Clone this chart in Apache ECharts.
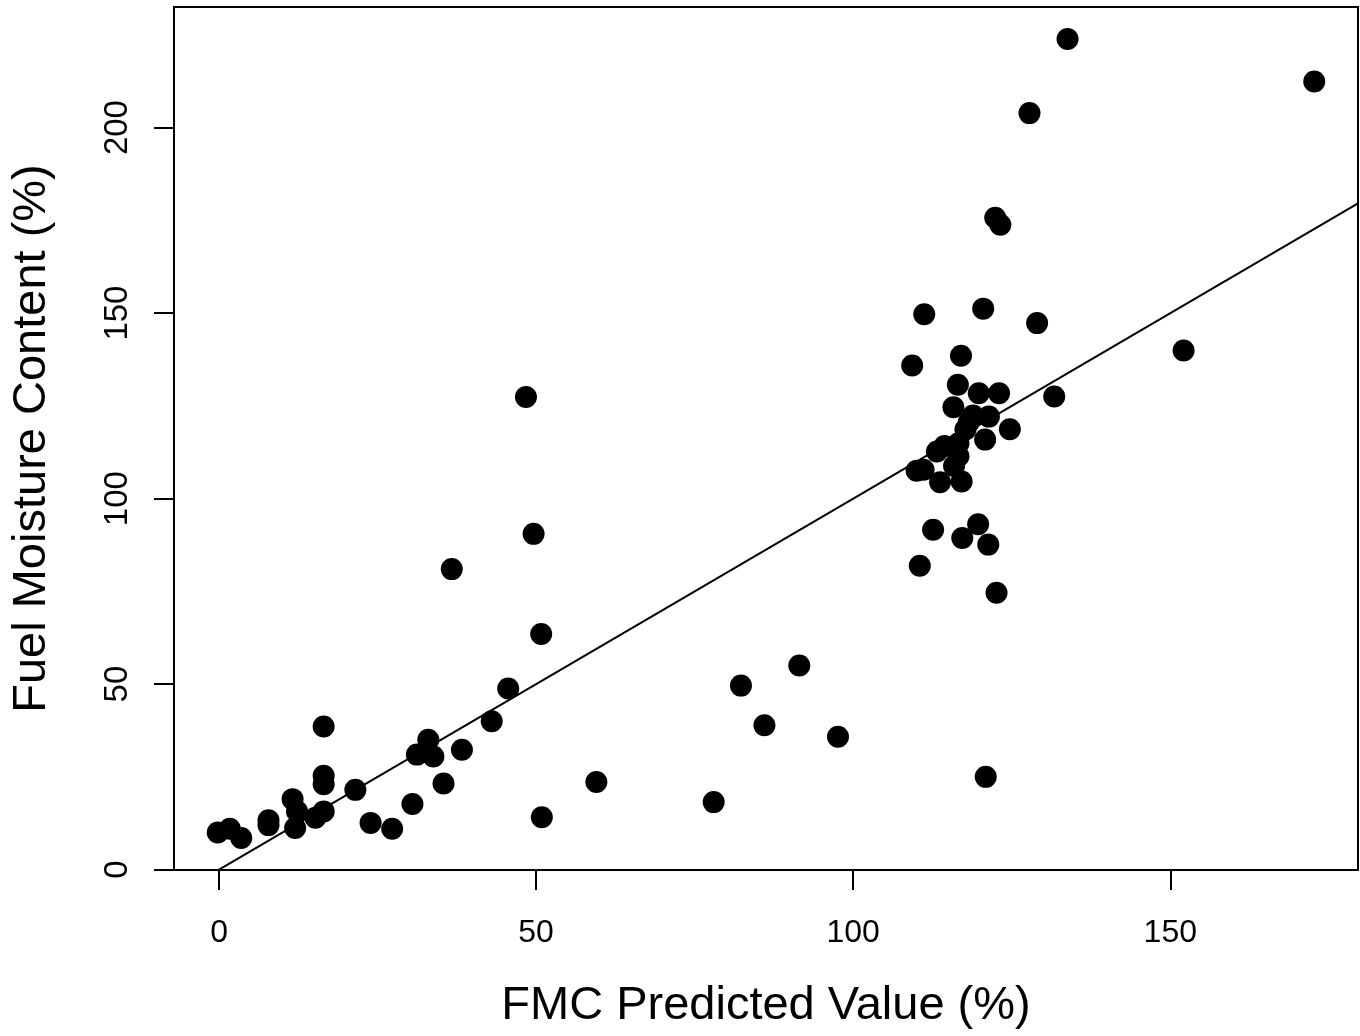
<!DOCTYPE html>
<html>
<head>
<meta charset="utf-8">
<script src="https://cdn.jsdelivr.net/npm/echarts@6/dist/echarts.min.js"></script>
<style>
  html, body { margin: 0; padding: 0; background: #fff; }
  #chart { width: 1360px; height: 1036px; }
</style>
</head>
<body>
<div id="chart"></div>
<script>
// Predicted fuel moisture content (x) vs observed fuel moisture content (y), in %
const predicted = [
  -0.2, 1.7, 3.5, 7.8, 7.8, 11.6, 12.3, 12.0, 15.2, 16.5, 16.5, 16.5, 16.5,
  21.5, 23.9, 27.3, 30.5, 31.2, 33.0, 33.8, 35.4, 36.7, 38.3, 43.0, 45.6,
  48.4, 49.6, 50.8, 50.9, 59.5, 78.0, 82.3, 86.0, 91.5, 97.6, 120.9,
  109.3, 111.2, 120.5, 117.0, 116.5, 119.8, 123.0, 115.8, 118.9, 121.4,
  124.7, 117.7, 120.8, 113.2, 114.4, 116.6, 116.6, 115.9, 110.0, 111.1,
  113.7, 117.1, 112.6, 119.7, 117.2, 121.3, 110.5, 122.6, 122.4, 123.2,
  127.8, 133.8, 172.7, 129.0, 152.1, 131.7, 118.2
];
const observed = [
  10.0, 11.0, 8.5, 13.3, 12.0, 19.0, 15.7, 11.2, 14.0, 15.7, 38.6, 25.3, 23.0,
  21.5, 12.6, 11.0, 17.7, 31.0, 35.0, 30.5, 23.2, 81.0, 32.3, 40.0, 48.8,
  127.4, 90.5, 63.5, 14.1, 23.6, 18.2, 49.6, 38.9, 55.0, 35.8, 25.0,
  135.9, 149.7, 151.2, 138.5, 130.7, 128.4, 128.4, 124.6, 122.4, 122.1,
  118.7, 118.6, 115.9, 112.7, 114.2, 114.9, 111.4, 108.8, 107.5, 107.8,
  104.4, 104.6, 91.6, 93.1, 89.4, 87.6, 81.9, 74.6, 175.7, 173.8,
  203.9, 223.9, 212.4, 147.3, 139.9, 127.5, 120.5
];

// Axis ticks
const xTicks = [0, 50, 100, 150];
const yTicks = [0, 50, 100, 150, 200];

// Plot ranges (data range padded by 4% on each side)
const xMin = -7.1, xMax = 179.6;
const yMin = -0.1, yMax = 232.5;

const points = predicted.map((x, i) => [x, observed[i]]);
// 1:1 reference line across the plotting region
const oneToOne = [[0, 0], [xMax, xMax]];

const FONT = '"Liberation Sans", Arial, Helvetica, sans-serif';

const chart = echarts.init(document.getElementById('chart'), null, { renderer: 'canvas' });
chart.setOption({
  animation: false,
  backgroundColor: '#ffffff',
  grid: {
    left: 174, top: 7, width: 1184, height: 863,
    show: true, borderColor: '#000', borderWidth: 2, backgroundColor: 'transparent'
  },
  xAxis: {
    type: 'value', min: xMin, max: xMax,
    name: 'FMC Predicted Value (%)',
    nameLocation: 'middle', nameGap: 113,
    nameTextStyle: { fontFamily: FONT, fontSize: 47, color: '#000' },
    axisLine: { show: false, onZero: false },
    splitLine: { show: false },
    axisTick: { show: true, inside: false, length: 20, lineStyle: { color: '#000', width: 2 }, customValues: xTicks },
    axisLabel: { show: true, margin: 47, fontFamily: FONT, fontSize: 32, color: '#000', customValues: xTicks }
  },
  yAxis: {
    type: 'value', min: yMin, max: yMax,
    name: 'Fuel Moisture Content (%)',
    nameLocation: 'middle', nameGap: 118,
    nameTextStyle: { fontFamily: FONT, fontSize: 47, color: '#000' },
    axisLine: { show: false, onZero: false },
    splitLine: { show: false },
    axisTick: { show: true, inside: false, length: 20, lineStyle: { color: '#000', width: 2 }, customValues: yTicks },
    axisLabel: { show: true, margin: 40, rotate: 90, fontFamily: FONT, fontSize: 33, color: '#000', customValues: yTicks }
  },
  series: [
    {
      type: 'line',
      data: oneToOne,
      showSymbol: false,
      silent: true,
      lineStyle: { color: '#000', width: 2 },
      z: 1
    },
    {
      type: 'scatter',
      data: points,
      symbol: 'circle',
      symbolSize: 22,
      itemStyle: { color: '#000', opacity: 1 },
      z: 2
    }
  ]
});
</script>
</body>
</html>
